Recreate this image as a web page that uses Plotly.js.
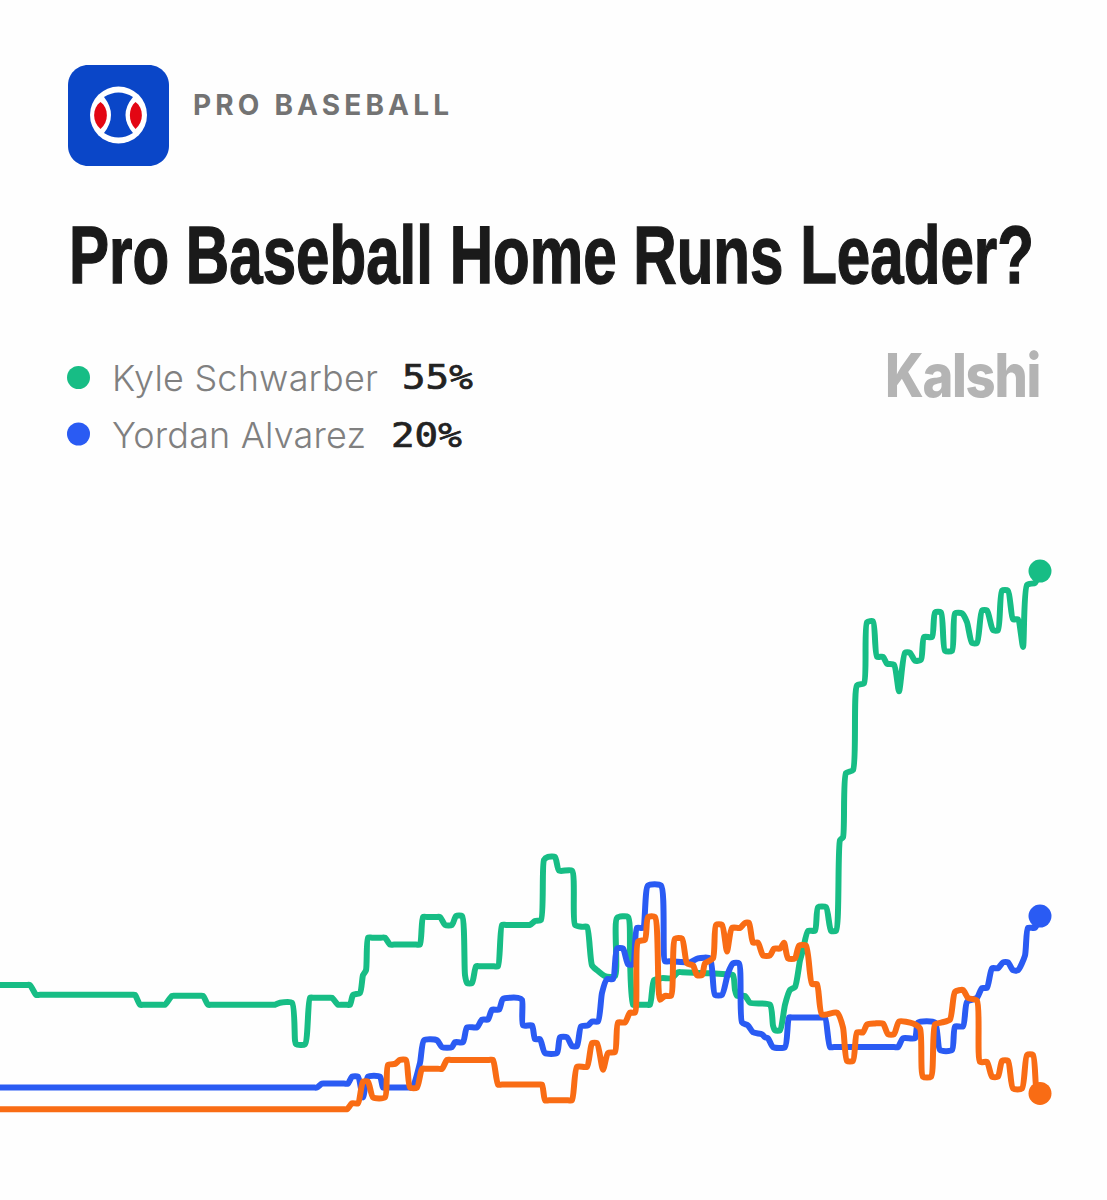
<!DOCTYPE html>
<html>
<head>
<meta charset="utf-8">
<script src="https://cdn.plot.ly/plotly-3.0.1.min.js"></script>
<style>html,body{margin:0;padding:0;background:#fefefe}#chart{width:1107px;height:1200px}.js-line{stroke-linejoin:round;stroke-linecap:round}</style>
</head>
<body>
<div id="chart"></div>
<script>
// [time step, chance in percent]
const schwarber = [[0,13],[26,13],[30,13],[36,12],[40,12],[131,12],[135,12],[140,11],[144,11],[161,11],[165,11],[172,11.9],[176,11.9],[199,11.9],[203,11.9],[208,11],[212,11],[271,11],[275,11],[280,11.2],[292,11.2],[295,7.4],[296,7],[305,7],[310,11.7],[314,11.7],[328,11.7],[332,11.7],[338,11],[342,11],[346,11],[350,11],[353,12],[360,12.2],[363,14],[366,14.5],[368,17.8],[372,17.8],[381,17.8],[385,17.8],[390,17.1],[394,17.1],[416,17.1],[420,17.1],[423,19.9],[427,19.9],[436,19.9],[440,19.9],[445,19.1],[452,19.1],[456,20],[462,20],[465,14],[467,13.2],[472,13.2],[476,14.9],[480,14.9],[494,14.9],[498,14.9],[502,19.1],[506,19.1],[526,19.1],[530,19.1],[535,19.5],[541,19.6],[544,25.7],[548,26],[555,26],[559,24.6],[572,24.6],[575,19.1],[582,18.9],[587,18.9],[592,15],[597,14.5],[605,13.9],[615,13.9],[617,19.8],[628,19.9],[630,15.5],[633,11],[637,11],[646,11],[650,11],[654,13.5],[662,13.7],[672,13.7],[678,14.3],[682,14.3],[706,14.2],[710,14.2],[726,14.1],[733,14],[735,12.5],[737,11.9],[745,11.9],[750,11.2],[770,11],[773,8.9],[775,8.4],[780,8.4],[785,11],[790,12.5],[795,12.8],[800,15.5],[803,16.6],[808,18.5],[815,18.5],[818,20.9],[826,20.9],[831,18.5],[836,18.5],[840,27.7],[843,28],[846,34.5],[853,34.8],[857,43.4],[864,43.6],[867,49.8],[873,49.9],[877,46.3],[883,46.3],[887,45.6],[894,45.5],[899,42.8],[905,46.7],[910,46.7],[915,45.9],[921,46],[924,48.3],[932,48.3],[935,50.8],[941,50.8],[945,46.9],[952,46.9],[955,50.7],[962,50.7],[967,49.8],[972,47.7],[977,47.7],[982,51],[987,51],[993,49],[998,49],[1002,53],[1008,53],[1013,50.1],[1018,50.1],[1023,47.3],[1027,53.6],[1035,53.8],[1040,55]];
const alvarez = [[0,2.6],[313,2.6],[317,2.6],[322,3],[326,3],[344,3],[348,3],[352,3.7],[358,3.7],[363,1.6],[368,3.7],[380,3.7],[383,2.6],[387,2.6],[408,2.6],[412,2.6],[420,5.1],[424,7.4],[437,7.4],[442,6.7],[452,6.7],[455,7.2],[463,7.2],[467,8.7],[477,8.7],[482,9.5],[488,9.5],[492,10.5],[499,10.5],[503,11.6],[518,11.7],[522,11.5],[523,8.9],[532,8.9],[535,7.5],[540,7.5],[545,6.1],[557,6.1],[560,7.7],[567,7.7],[572,6.8],[577,6.8],[581,8.8],[588,8.9],[592,9.3],[598,9.3],[602,12.2],[607,13.6],[613,13.6],[617,16.7],[623,16.7],[628,15.1],[633,15.1],[637,18.8],[643,18.8],[648,23.1],[661,23.1],[665,15.4],[669,15.4],[686,15.3],[690,15.3],[698,15.7],[710,15.7],[715,12],[722,12],[728,14.2],[733,15.2],[739,15.2],[742,9.2],[748,8.9],[753,8.2],[762,8],[765,7.7],[768,7.6],[773,6.7],[785,6.7],[789,9.7],[793,9.7],[821,9.7],[825,9.7],[830,6.7],[834,6.7],[894,6.7],[898,6.7],[903,7.6],[915,7.6],[918,9.2],[935,9.2],[940,6.4],[952,6.4],[955,8.8],[963,8.8],[967,11.3],[977,11.7],[982,12.7],[987,12.7],[992,14.7],[998,14.7],[1003,15.3],[1008,15.3],[1013,14.5],[1018,14.5],[1025,16],[1028,18.8],[1035,18.8],[1040,20]];
const third = [[0,0.4],[343,0.4],[347,0.4],[352,1],[358,1],[363,3.2],[368,3.2],[373,1.6],[385,1.6],[388,4.9],[395,5],[400,5.4],[406,5.4],[410,2.6],[417,2.6],[422,4.5],[426,4.5],[438,4.5],[442,4.5],[447,5.4],[451,5.4],[489,5.4],[493,5.4],[498,2.9],[502,2.9],[538,2.9],[542,2.9],[545,1.3],[549,1.3],[568,1.3],[572,1.3],[577,4.7],[587,4.7],[592,7.1],[597,7.1],[603,4.4],[608,6.1],[615,6.2],[618,9.2],[625,9.2],[630,10.2],[635,10.2],[638,17.4],[645,17.6],[648,19.9],[655,19.9],[660,11.5],[665,11.9],[671,11.9],[675,17.7],[682,17.7],[687,15.2],[693,15],[697,14],[702,14],[705,15.2],[713,15.7],[716,19.1],[722,19.1],[727,16.4],[732,18.8],[740,18.8],[745,19.3],[749,19.3],[753,17.3],[758,17.3],[763,16],[770,16],[774,16.7],[780,16.7],[784,17.3],[788,15.7],[795,15.7],[799,17],[806,17],[812,13.1],[817,13.1],[822,10],[837,10.2],[843,8.7],[847,5.3],[853,5.3],[857,8.2],[863,8.2],[867,9],[875,9.1],[883,9.1],[888,8],[894,8],[899,9.3],[913,9.1],[920,8.6],[923,3.7],[931,3.7],[935,9],[942,9.2],[950,9.5],[955,12.3],[963,12.5],[968,11.7],[977,11.4],[980,5.2],[987,5.2],[992,3.7],[998,3.7],[1002,5.3],[1008,5.3],[1013,2.5],[1022,2.5],[1027,5.9],[1033,5.9],[1037,2],[1040,2]];

const legendNames = ["Kyle Schwarber", "Yordan Alvarez"];
const legendValues = ["55%", "20%"];
const headline = "Pro Baseball Home Runs Leader?";
const category = "PRO BASEBALL";
const brand = "Kalshi";

const GREEN = "#17bd85", BLUE = "#2a5bf3", ORANGE = "#f96c14";
const W = 1107, H = 1200;
const X = x => x / W, Y = y => 1 - y / H;

function lineTrace(s, color) {
  return {x: s.map(p => p[0]), y: s.map(p => p[1]), mode: "lines", hoverinfo: "skip",
    line: {color, width: 6, shape: "spline", smoothing: 0.6, simplify: false}};
}
function endTrace(s, color) {
  const e = s[s.length - 1];
  return {x: [e[0]], y: [e[1]], mode: "markers", hoverinfo: "skip",
    marker: {color, size: 23, line: {width: 0}}};
}
const traces = [
  lineTrace(schwarber, GREEN), lineTrace(alvarez, BLUE), lineTrace(third, ORANGE),
  endTrace(schwarber, GREEN), endTrace(alvarez, BLUE), endTrace(third, ORANGE)
];

// Decorative path given in page pixels, converted to paper fractions
function P(cmds) {
  return cmds.map(c => c[0] + " " + c.slice(1).map((n, i) => i % 2 ? Y(n) : X(n)).join(" ")).join(" ");
}
function shapePath(cmds, fill) {
  return {type: "path", xref: "paper", yref: "paper", layer: "above", path: P(cmds), fillcolor: fill, line: {width: 0}};
}
function disc(cx, cy, r, fill) {
  return {type: "circle", xref: "paper", yref: "paper", layer: "above",
    x0: X(cx - r), x1: X(cx + r), y0: Y(cy + r), y1: Y(cy - r), fillcolor: fill, line: {width: 0}};
}
const l = 68, r = 169, t = 65, b = 166, q = 20, k = 9;
const shapes = [
  shapePath([["M", l + q, t], ["L", r - q, t], ["C", r - k, t, r, t + k, r, t + q], ["L", r, b - q],
             ["C", r, b - k, r - k, b, r - q, b], ["L", l + q, b], ["C", l + k, b, l, b - k, l, b - q],
             ["L", l, t + q], ["C", l, t + k, l + k, t, l + q, t], ["Z"]], "#0a46c8"),
  disc(118.5, 115, 28.5, "#ffffff"),
  shapePath([["M", 104, 97], ["Q", 118.5, 88, 133, 97], ["Q", 118, 115, 133, 133], ["Q", 118.5, 142, 104, 133], ["Q", 118, 115, 104, 97], ["Z"]], "#0a46c8"),
  shapePath([["M", 100.5, 102], ["C", 92, 108, 92, 122, 100.5, 129], ["C", 109, 122, 109, 108, 100.5, 102], ["Z"]], "#e30613"),
  shapePath([["M", 135.5, 102], ["C", 144, 108, 144, 122, 135.5, 129], ["C", 128, 122, 128, 108, 135.5, 102], ["Z"]], "#e30613"),
  disc(78.5, 377.5, 11.5, GREEN),
  disc(78.5, 434, 11.5, BLUE)
];

function label(text, x, mid, size, family, color, weight) {
  return {text, xref: "paper", yref: "paper", x: X(x), y: Y(mid), xanchor: "left", yanchor: "middle",
    align: "left", showarrow: false, borderpad: 0, font: {family, size, color, weight}};
}
const annotations = [
  label(category, 191.5, 105, 28, "Inter", "#737373", 700),
  label(headline, 68, 254, 82, "Liberation Sans", "#1a1a1a", 700),
  label(legendNames[0], 111, 378, 36, "Inter", "#808080", 300),
  label(legendValues[0], 401, 378, 33, "DejaVu Sans Mono", "#222222", 400),
  label(legendNames[1], 111, 435, 36, "Inter", "#808080", 300),
  label(legendValues[1], 390, 435, 33, "DejaVu Sans Mono", "#222222", 400),
  label(brand, 884, 375, 60, "Inter", "#b4b4b4", 800)
];
// target widths in pixels: "s" stretches the spacing, "g" scales the glyphs horizontally
const fit = [[256, "s"], [965, "g"], [266, "s"], [71, "g"], [254, "s"], [71, "g"], [155, "g"]];

const hidden = {visible: false, showgrid: false, zeroline: false, fixedrange: true};
const layout = {
  width: W, height: H, margin: {l: 0, r: 0, t: 0, b: 0},
  paper_bgcolor: "#fefefe", plot_bgcolor: "#fefefe", showlegend: false,
  xaxis: Object.assign({range: [0, W]}, hidden),
  yaxis: Object.assign({range: [-8.81, 112.93]}, hidden),
  shapes, annotations
};
Plotly.newPlot("chart", traces, layout, {displayModeBar: false, staticPlot: true}).then(() => {
  document.querySelectorAll(".annotation-text").forEach((el, i) => {
    const [w, mode] = fit[i];
    if (i === 6) el.style.letterSpacing = "-1.5px";
    if (mode === "s") {
      el.setAttribute("textLength", w);
      el.setAttribute("lengthAdjust", "spacing");
    } else {
      const b = el.getBBox();
      el.setAttribute("transform", `translate(${b.x} 0) scale(${w / b.width} 1) translate(${-b.x} 0)`);
    }
    if (i === 3 || i === 5) { el.style.stroke = "#222222"; el.style.strokeWidth = "0.7px"; }
    if (i === 1) { el.style.stroke = "#1a1a1a"; el.style.strokeWidth = "1.4px"; }
  });
});
</script>
</body>
</html>
